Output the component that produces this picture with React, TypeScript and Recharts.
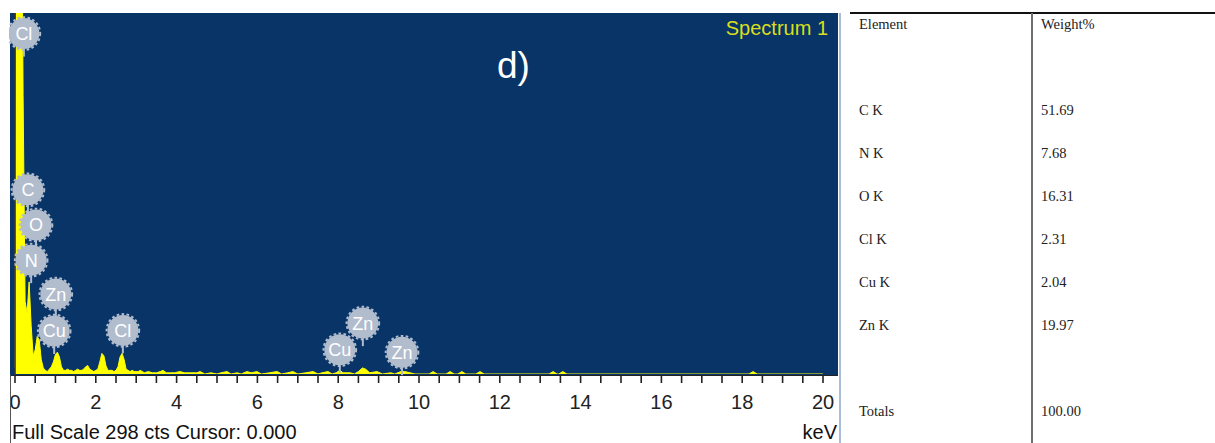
import React from 'react'
import { AreaChart, Area, XAxis, YAxis, ReferenceDot, ReferenceLine } from 'recharts'

// spectrum, 0-3 keV read channel by channel
const LOW_KEV = [
  0, 0.05, 0.1, 0.15, 0.2, 0.25, 0.3, 0.35, 0.4, 0.45, 0.5, 0.55, 0.6, 0.65, 0.7, 0.75, 0.8, 0.85, 0.9, 0.95,
  1.0, 1.05, 1.1, 1.15, 1.2, 1.25, 1.3, 1.35, 1.4, 1.45, 1.5, 1.55, 1.6, 1.65, 1.7, 1.75, 1.8, 1.85, 1.9, 1.95,
  2.0, 2.05, 2.1, 2.15, 2.2, 2.25, 2.3, 2.35, 2.4, 2.45, 2.5, 2.55, 2.6, 2.65, 2.7, 2.75, 2.8, 2.85, 2.9, 2.95, 3.0,
]
const LOW_CTS = [
  5, 600, 650, 500, 230, 60, 50, 76, 40, 15, 20, 31, 28, 12, 5, 3, 2, 4, 6, 10,
  16, 18, 14, 6, 3, 3, 4, 3, 3, 2, 3, 4, 3, 3, 4, 6, 7, 4, 3, 2,
  3, 4, 10, 17, 15, 7, 3, 3, 3, 2, 3, 6, 14, 17, 12, 4, 3, 2, 3, 2, 2,
]

// 3-20 keV: baseline noise, only the visible counts
const HIGH_KEV = [
  3.05, 3.1, 3.2, 3.3, 3.4, 3.5, 3.6, 3.66, 3.75, 3.85, 3.95, 4.08, 4.2, 4.35, 4.5, 4.58, 4.7, 4.85, 5.0, 5.1,
  5.25, 5.35, 5.5, 5.6, 5.74, 5.85, 5.99, 6.1, 6.3, 6.49, 6.6, 6.75, 6.88, 7.0, 7.2, 7.38, 7.5, 7.6, 7.75, 7.85,
  7.95, 8.04, 8.12, 8.3, 8.4, 8.5, 8.6, 8.68, 8.78, 8.96, 9.1, 9.3, 9.4, 9.55, 9.65, 9.78, 9.9, 10.25, 10.35, 10.45,
  10.67, 10.77, 10.87, 10.96, 11.06, 11.16, 11.41, 11.51, 11.61, 13.22, 13.32, 13.42, 13.46, 13.56, 13.66, 18.17, 18.27, 18.37, 20,
]
const HIGH_CTS = [
  2, 3, 1, 2, 1, 1, 2, 3, 1, 1, 1, 2, 1, 1, 1, 2, 0, 1, 0, 1,
  2, 0, 1, 0, 2, 1, 2, 0, 1, 2, 0, 1, 2, 0, 1, 2, 0, 1, 2, 0,
  1, 3, 1, 1, 0, 2, 5, 4, 1, 2, 0, 1, 0, 2, 2, 1, 0, 0, 2, 0,
  0, 2, 0, 0, 2, 0, 0, 2, 0, 0, 2, 0, 0, 2, 0, 0, 2, 0, 0,
]

// element markers: name, energy and height of the badge (cts)
const MARK_NAMES = ['Cl', 'C', 'O', 'N', 'Zn', 'Cu', 'Cl', 'Cu', 'Zn', 'Zn']
const MARK_KEV = [0.22, 0.32, 0.52, 0.4, 1.01, 0.97, 2.67, 8.04, 8.61, 9.58]
const MARK_CTS = [281, 152, 123, 94, 66, 35.5, 36, 20, 42, 18]

const MINOR_TICKS = [
  0, 0.5, 1, 1.5, 2, 2.5, 3, 3.5, 4, 4.5, 5, 5.5, 6, 6.5, 7, 7.5, 8, 8.5, 9, 9.5, 10,
  10.5, 11, 11.5, 12, 12.5, 13, 13.5, 14, 14.5, 15, 15.5, 16, 16.5, 17, 17.5, 18, 18.5, 19, 19.5, 20,
]
const LABEL_TICKS = [0, 2, 4, 6, 8, 10, 12, 14, 16, 18, 20]

const TABLE_ELEMENTS = ['C K', 'N K', 'O K', 'Cl K', 'Cu K', 'Zn K']
const TABLE_WEIGHTS = ['51.69', '7.68', '16.31', '2.31', '2.04', '19.97']
const TABLE_TOTAL = '100.00'

const spectrum = [
  ...LOW_KEV.map((kev, i) => ({ kev, cts: LOW_CTS[i] })),
  ...HIGH_KEV.map((kev, i) => ({ kev, cts: HIGH_CTS[i] })),
]

const SANS = '"Liberation Sans", Arial, sans-serif'
const SERIF = '"Liberation Serif", "Times New Roman", serif'
const BADGE = '#b1bccd'

const KevTick = (props: any) => {
  const { x, y, payload } = props
  const v = payload.value
  return (
    <g>
      <line x1={x} x2={x} y1={y + 2} y2={y + 9} stroke="#222" strokeWidth={1.6} />
      {LABEL_TICKS.includes(v) && (
        <text x={x} y={y + 35} textAnchor="middle" fontSize={20} fill="#222" fontFamily={SANS}>
          {v}
        </text>
      )}
    </g>
  )
}

const badge = (name: string) => (props: any) => {
  const { cx, cy } = props
  return (
    <g>
      <line x1={cx} x2={cx} y1={cy} y2={cy + 23} stroke={BADGE} strokeWidth={2} />
      <circle cx={cx} cy={cy} r={15.5} fill={BADGE} />
      <circle cx={cx} cy={cy} r={16.3} fill="none" stroke={BADGE} strokeWidth={2} strokeDasharray="2.6 2.4" />
      <text x={cx} y={cy + 6.5} textAnchor="middle" fontSize={18} fill="#fff" fontFamily={SANS}>
        {name}
      </text>
    </g>
  )
}

const cell = (top: number, left: number, text: string) => (
  <div
    style={{
      position: 'absolute',
      top: top - 8,
      left,
      lineHeight: '16px',
      fontSize: 14.5,
      fontFamily: SERIF,
      color: '#222',
      whiteSpace: 'nowrap',
    }}
  >
    {text}
  </div>
)

export default function App() {
  const rowY = [110, 153, 196, 239, 282, 325]
  return (
    <div style={{ position: 'absolute', top: 0, left: 0, width: 1215, height: 443, background: '#fff', overflow: 'hidden' }}>
      {/* spectrum panel */}
      <div style={{ position: 'absolute', left: 10, top: 13, width: 828, height: 362, background: '#083468', borderBottom: '1px solid #222' }} />
      <div style={{ position: 'absolute', left: 9, top: 0, width: 830, height: 443, overflow: 'hidden' }}>
        <AreaChart width={830} height={443} data={spectrum} margin={{ top: 13, right: 16, left: 6, bottom: 39 }}>
          <XAxis
            dataKey="kev"
            type="number"
            domain={[0, 20]}
            ticks={MINOR_TICKS}
            interval={0}
            axisLine={false}
            tickLine={false}
            tickSize={0}
            tickMargin={0}
            height={30}
            tick={<KevTick />}
          />
          <YAxis hide type="number" domain={[0, 298]} allowDataOverflow />
          <Area
            type="linear"
            dataKey="cts"
            stroke="#ffff00"
            strokeWidth={1}
            fill="#ffff00"
            fillOpacity={1}
            isAnimationActive={false}
            dot={false}
            activeDot={false}
          />
          {MARK_NAMES.map((name, i) => (
            <ReferenceDot key={i} x={MARK_KEV[i]} y={MARK_CTS[i]} ifOverflow="visible" shape={badge(name)} />
          ))}
          <ReferenceLine x={0} stroke="#333" strokeWidth={1.6} />
        </AreaChart>
        <div style={{ position: 'absolute', left: 3, top: 421, fontSize: 20, fontFamily: SANS, color: '#111', whiteSpace: 'nowrap', lineHeight: '22px' }}>
          Full Scale 298 cts Cursor: 0.000
        </div>
        <div style={{ position: 'absolute', right: 2, top: 421, fontSize: 20, fontFamily: SANS, color: '#111', lineHeight: '22px' }}>
          keV
        </div>
        <div style={{ position: 'absolute', left: 488, top: 44, fontSize: 37, fontFamily: SANS, color: '#fff', lineHeight: '44px' }}>
          d)
        </div>
        <div style={{ position: 'absolute', right: 11, top: 17, fontSize: 20, fontFamily: SANS, color: '#d9df1c', lineHeight: '22px' }}>
          Spectrum 1
        </div>
      </div>
      <div style={{ position: 'absolute', left: 10, top: 375, width: 1, height: 68, background: '#555' }} />
      <div style={{ position: 'absolute', left: 839, top: 13, width: 1.5, height: 430, background: '#a9bcd8' }} />

      {/* composition table */}
      <div style={{ position: 'absolute', left: 850, top: 12, width: 365, height: 1.5, background: '#111' }} />
      <div style={{ position: 'absolute', left: 1031, top: 13, width: 2, height: 430, background: '#6e6e6e' }} />
      {cell(24, 859, 'Element')}
      {cell(24, 1041, 'Weight%')}
      {TABLE_ELEMENTS.map((el, i) => (
        <React.Fragment key={el}>
          {cell(rowY[i], 859, el)}
          {cell(rowY[i], 1041, TABLE_WEIGHTS[i])}
        </React.Fragment>
      ))}
      {cell(411, 859, 'Totals')}
      {cell(411, 1041, TABLE_TOTAL)}
    </div>
  )
}
